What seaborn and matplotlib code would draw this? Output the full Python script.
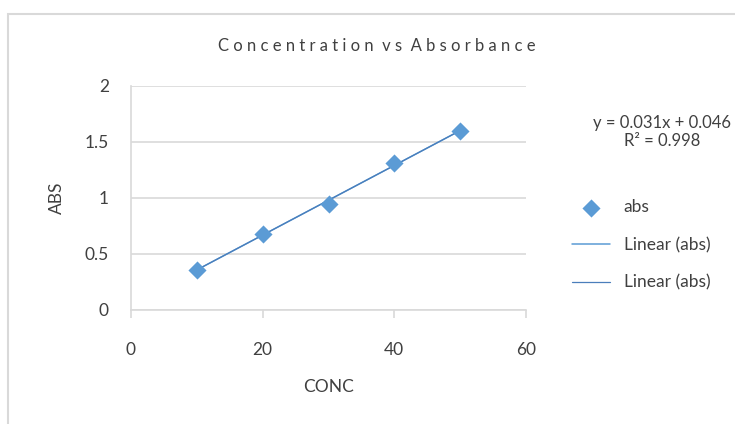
import matplotlib.pyplot as plt
import matplotlib.patches as mpatches
import numpy as np
import pandas as pd
import seaborn as sns

# data
conc = [10, 20, 30, 40, 50]
absorbance = [0.36, 0.68, 0.95, 1.31, 1.60]
x_ticks = [0, 20, 40, 60]
y_ticks = [0, 0.5, 1, 1.5, 2]
y_tick_labels = ["0", "0.5", "1", "1.5", "2"]
equation_text = "y = 0.031x + 0.046\nR² = 0.998"

df = pd.DataFrame({"CONC": conc, "ABS": absorbance})

# linear trendline
slope, intercept = np.polyfit(df["CONC"], df["ABS"], 1)
df["fit"] = slope * df["CONC"] + intercept

sns.set_style("white")
plt.rcParams["font.family"] = ["Lato", "DejaVu Sans"]

blue = "#5b9bd5"
text_color = "#404040"

fig = plt.figure(figsize=(7.35, 4.24), dpi=100)
ax = fig.add_axes([131 / 735, 1 - 310 / 424, 395 / 735, 224 / 424])

# chart border
fig.patches.append(
    mpatches.Rectangle(
        (8 / 735, -0.05), 1.2, 1 - 14 / 424 + 0.05,
        transform=fig.transFigure, fill=False,
        edgecolor="#d9d9d9", linewidth=1.5
    )
)

sns.lineplot(
    data=df, x="CONC", y="fit", ax=ax,
    color=blue, linewidth=1.1, label="Linear (abs)"
)
sns.lineplot(
    data=df, x="CONC", y="fit", ax=ax,
    color="#4a7ebb", linewidth=0.9, label="Linear (abs)"
)
sns.scatterplot(
    data=df, x="CONC", y="ABS", ax=ax,
    marker="D", s=85, color=blue, edgecolor=blue,
    linewidth=0, label="abs", zorder=5
)

ax.set_xlim(0, 60)
ax.set_ylim(0, 2)
ax.set_xticks(x_ticks)
ax.set_yticks(y_ticks)
ax.set_yticklabels(y_tick_labels)

ax.grid(axis="y", color="#d9d9d9", linewidth=1.2)
ax.set_axisbelow(True)

for side in ["top", "right"]:
    ax.spines[side].set_visible(False)
for side in ["left", "bottom"]:
    ax.spines[side].set_color("#d9d9d9")
    ax.spines[side].set_linewidth(1.2)

ax.tick_params(axis="x", length=6, width=1.2, color="#d9d9d9",
               labelsize=12.5, labelcolor=text_color, pad=17, direction="out",
               bottom=True)
ax.tick_params(axis="y", length=0, labelsize=12.5, labelcolor=text_color, pad=16)

ax.set_xlabel("CONC", fontsize=12.5, color=text_color, labelpad=15)
ax.set_ylabel("ABS", fontsize=12.5, color=text_color, labelpad=14)

fig.text(377 / 735, 1 - 46 / 424, "C o n c e n t r a t i o n  v s  A b s o r b a n c e",
         ha="center", va="center", fontsize=12, color=text_color)

fig.text(662 / 735, 1 - 132 / 424, equation_text,
         ha="center", va="center", fontsize=12, color=text_color,
         linespacing=1.2)

# legend order: abs, Linear, Linear
handles, labels = ax.get_legend_handles_labels()
order = [2, 0, 1]
leg = ax.legend(
    [handles[i] for i in order], [labels[i] for i in order],
    loc="center left", bbox_to_anchor=(556 / 735, 1 - 245 / 424),
    bbox_transform=fig.transFigure, frameon=False,
    fontsize=12.5, labelspacing=1.25, handlelength=2.2, handletextpad=0.8,
    labelcolor=text_color
)

fig.savefig("out.png", dpi=100)
